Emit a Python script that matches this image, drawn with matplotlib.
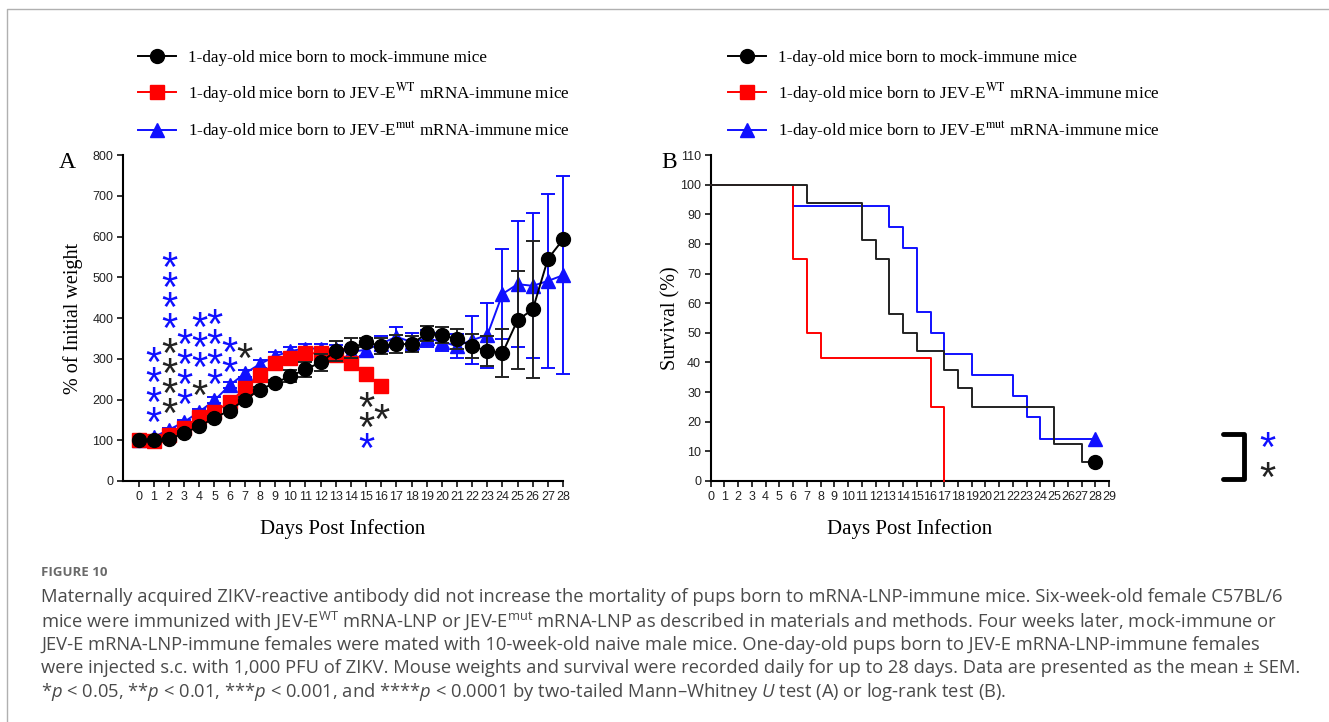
import numpy as np
import matplotlib
matplotlib.use("Agg")
import matplotlib.pyplot as plt
from matplotlib.lines import Line2D
from matplotlib.transforms import offset_copy

plt.rcParams['font.family'] = ['Liberation Sans', 'DejaVu Sans']
plt.rcParams['mathtext.fontset'] = 'custom'
plt.rcParams['mathtext.rm'] = 'Open Sans'
plt.rcParams['mathtext.it'] = 'Open Sans:italic'

# ---- panel A : body weight (% of initial) ----
days = np.arange(0, 29)
mock_mean = [100, 100, 102, 118, 134, 155, 173, 200, 224, 241, 257, 274, 291, 319, 326,
             340, 332, 336, 336, 362, 358, 348, 331, 319, 314, 395, 421, 545, 593]
mock_sem = [0, 2, 3, 4, 5, 5, 6, 6, 7, 8, 15, 18, 20, 25, 25,
            12, 20, 22, 20, 18, 20, 25, 30, 38, 60, 120, 168, np.nan, np.nan]
wt_days = np.arange(0, 17)
wt_mean = [100, 99, 112, 131, 156, 170, 193, 227, 260, 290, 301, 314, 313, 309, 290, 262, 233]
wt_sem = [0, 2, 3, 4, 5, 5, 6, 6, 7, 8, 8, 9, 9, 10, 10, 10, 10]
mut_mean = [100, 108, 126, 145, 170, 198, 235, 264, 287, 306, 319, 325, 325, 323, 317,
            322, 337, 354, 341, 350, 342, 331, 346, 358, 459, 483, 479, 491, 505]
mut_sem = [0, 3, 4, 5, 6, 7, 8, 8, 9, 10, 10, 10, 10, 10, 12,
           15, 18, 25, 22, 20, 22, 30, 58, 80, 110, 155, 178, 213, 243]

# significance marks: one column of stars per entry (day, y of top star, count)
star_blue_day = [1, 2, 3, 4, 5, 6, 15]
star_blue_top = [313, 546, 358, 399, 407, 337, 102]
star_blue_n = [4, 4, 4, 3, 4, 2, 1]
star_black_day = [2, 4, 7, 15, 16]
star_black_top = [336, 231, 322, 202, 174]
star_black_n = [4, 1, 1, 2, 1]

# ---- panel B : survival ----
mock_surv_days = [0, 7, 11, 12, 13, 14, 15, 17, 18, 19, 25, 27, 28]
mock_surv = [100, 93.75, 81.25, 75, 56.25, 50, 43.75, 37.5, 31.25, 25, 12.5, 6.25, 6.25]
wt_surv_days = [0, 6, 7, 8, 16, 17]
wt_surv = [100, 75, 50, 41.67, 25, 0]
mut_surv_days = [0, 6, 13, 14, 15, 16, 17, 19, 22, 23, 24, 28]
mut_surv = [100, 92.86, 85.71, 78.57, 57.14, 50, 42.86, 35.71, 28.57, 21.43, 14.29, 14.29]
bracket_x = [37.3, 38.8, 38.8, 37.3]
bracket_y = [15.8, 15.8, 0.6, 0.6]
bracket_star_x = 40.5
bracket_star_y = [14.4, 4.3]

labels = ['1-day-old mice born to mock-immune mice',
          r'1-day-old mice born to JEV-E$^{\mathrm{WT}}$ mRNA-immune mice',
          r'1-day-old mice born to JEV-E$^{\mathrm{mut}}$ mRNA-immune mice']

caption = [
    'Maternally acquired ZIKV-reactive antibody did not increase the mortality of pups born to mRNA-LNP-immune mice. Six-week-old female C57BL/6',
    r'mice were immunized with JEV-E$^{\mathrm{WT}}$ mRNA-LNP or JEV-E$^{\mathrm{mut}}$ mRNA-LNP as described in materials and methods. Four weeks later, mock-immune or',
    'JEV-E mRNA-LNP-immune females were mated with 10-week-old naive male mice. One-day-old pups born to JEV-E mRNA-LNP-immune females',
    'were injected s.c. with 1,000 PFU of ZIKV. Mouse weights and survival were recorded daily for up to 28 days. Data are presented as the mean \u00b1 SEM.',
    r'*$p$ < 0.05, **$p$ < 0.01, ***$p$ < 0.001, and ****$p$ < 0.0001 by two-tailed Mann' + '\u2013' + r'Whitney $U$ test (A) or log-rank test (B).',
]

BLUE = '#1010ff'
RED = '#ff0000'
BLK = '#000000'
DARK = '#222222'
serif = 'Liberation Serif'
STAR_FS = 30

fig = plt.figure(figsize=(13.29, 7.22), dpi=100)
fig.patch.set_facecolor('white')

axA = fig.add_axes([0.0926, 0.3338, 0.3311, 0.4515])
axB = fig.add_axes([0.5348, 0.3338, 0.2997, 0.4515])

def style_axis(ax):
    for s in ['top', 'right']:
        ax.spines[s].set_visible(False)
    for s in ['left', 'bottom']:
        ax.spines[s].set_linewidth(1.5)
    ax.tick_params(direction='out', length=4, width=1.3, labelsize=9, colors=DARK, pad=3)

# panel A
eb_mut = axA.errorbar(days, mut_mean, yerr=mut_sem, color=BLUE, marker='^', ms=9.5, lw=1.4,
                      elinewidth=1.4, capsize=5, capthick=1.4, zorder=3, clip_on=False)
eb_wt = axA.errorbar(wt_days, wt_mean, yerr=wt_sem, color=RED, marker='s', ms=9.5, lw=1.4,
                     elinewidth=1.4, capsize=5, capthick=1.4, zorder=4, clip_on=False)
eb_mock = axA.errorbar(days, mock_mean, yerr=mock_sem, color=BLK, marker='o', ms=10, lw=1.4,
                       ecolor=DARK, elinewidth=1.4, capsize=5, capthick=1.4, zorder=5, clip_on=False)
for eb in (eb_mut, eb_wt, eb_mock):
    for a in eb.get_children():
        a.set_clip_on(False)

axA.set_xlim(-1.03, 28)
axA.set_ylim(0, 800)
axA.set_xticks(days)
axA.set_yticks(np.arange(0, 801, 100))
style_axis(axA)
axA.set_xlabel('Days Post Infection', family=serif, fontsize=15, labelpad=12)
axA.set_ylabel('% of Initial weight', family=serif, fontsize=14.5, labelpad=7)

# stacked stars: one text per column, shifted so the top star's centre sits on y
star_tr = offset_copy(axA.transData, fig=fig, x=0, y=0.204 * STAR_FS, units='points')
for d, y, n in zip(star_blue_day, star_blue_top, star_blue_n):
    axA.text(d, y, '\n'.join(['*'] * n), color=BLUE, fontsize=STAR_FS, ha='center', va='top',
             linespacing=0.36, transform=star_tr, clip_on=False)
for d, y, n in zip(star_black_day, star_black_top, star_black_n):
    axA.text(d, y, '\n'.join(['*'] * n), color=DARK, fontsize=STAR_FS, ha='center', va='top',
             linespacing=0.36, transform=star_tr, clip_on=False)

# panel B
axB.step(mut_surv_days, mut_surv, where='post', color=BLUE, lw=1.4, zorder=3, clip_on=False)
axB.step(wt_surv_days, wt_surv, where='post', color=RED, lw=1.4, zorder=4, clip_on=False)
axB.step(mock_surv_days, mock_surv, where='post', color=DARK, lw=1.4, zorder=5, clip_on=False)
axB.plot(mut_surv_days[-1], mut_surv[-1], marker='^', ms=10, color=BLUE, zorder=6, clip_on=False)
axB.plot(mock_surv_days[-1], mock_surv[-1], marker='o', ms=10, color=BLK, zorder=6, clip_on=False)
axB.set_xlim(0, 29)
axB.set_ylim(0, 110)
axB.set_xticks(np.arange(0, 30))
axB.set_yticks(np.arange(0, 111, 10))
style_axis(axB)
axB.set_xlabel('Days Post Infection', family=serif, fontsize=15, labelpad=12)
axB.set_ylabel('Survival (%)', family=serif, fontsize=14.5, labelpad=0)

axB.plot(bracket_x, bracket_y, color=BLK, lw=3.5, solid_capstyle='round', clip_on=False)
star_trB = offset_copy(axB.transData, fig=fig, x=0, y=0.204 * STAR_FS, units='points')
for y, c in zip(bracket_star_y, [BLUE, DARK]):
    axB.text(bracket_star_x, y, '*', color=c, fontsize=STAR_FS, ha='center', va='top',
             transform=star_trB, clip_on=False)

# legends
handles = [eb_mock[0], eb_wt[0], eb_mut[0]]
for x0 in (138, 728):
    leg = fig.legend(handles, labels, loc='upper left', bbox_to_anchor=(x0 / 1329, 1 - 49.5 / 722),
                     frameon=False, prop={'family': serif, 'size': 12.3}, handlelength=2.2,
                     handletextpad=0.75, labelspacing=0.88, borderpad=0, borderaxespad=0)
    for t in leg.get_texts():
        t.set_math_fontfamily('stix')

fig.text(67 / 1329, 1 - 163 / 722, 'A', family=serif, fontsize=17, ha='center', va='center')
fig.text(669 / 1329, 1 - 163 / 722, 'B', family=serif, fontsize=17, ha='center', va='center')

# caption
fig.text(41 / 1329, 1 - 572 / 722, 'FIGURE 10', family='Open Sans', fontsize=9.5,
         weight='bold', color='#6a6a6a', va='center')
for i, line in enumerate(caption):
    fig.text(41 / 1329, 1 - (597 + 23.8 * i) / 722, line, family='Open Sans', fontsize=13.2,
             color='#4a4a4a', va='center')

# frame lines
fig.add_artist(Line2D([7 / 1329, 7 / 1329, 1.0], [0, 1 - 9 / 722, 1 - 9 / 722],
                      transform=fig.transFigure, color='#b0b0b0', lw=1))

fig.savefig('out.png', dpi=100, facecolor='white')
